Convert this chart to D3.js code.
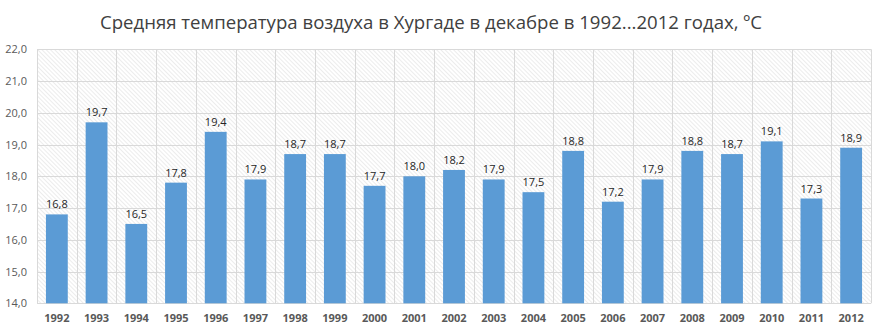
<!DOCTYPE html>
<html><head><meta charset="utf-8">
<script src="https://cdn.jsdelivr.net/npm/d3@7"></script>
<style>body{margin:0;background:#fff}svg{display:block}</style>
</head><body><svg id="c" width="884" height="332"></svg>
<script>
const years = ["1992","1993","1994","1995","1996","1997","1998","1999","2000","2001","2002","2003","2004","2005","2006","2007","2008","2009","2010","2011","2012"];
const temps = [16.8,19.7,16.5,17.8,19.4,17.9,18.7,18.7,17.7,18.0,18.2,17.9,17.5,18.8,17.2,17.9,18.8,18.7,19.1,17.3,18.9];
const yTicks = [14,15,16,17,18,19,20,21,22];
const title = "Средняя температура воздуха в Хургаде в декабре в 1992...2012 годах, ºС";

const svg = d3.select("#c");
const m = {l:37, r:871, t:49.3, b:303.3};
const x = d3.scaleBand().domain(years).range([m.l, m.r]).paddingInner(0.45).paddingOuter(0.225);
const y = d3.scaleLinear().domain([14,22]).range([m.b, m.t]);
const fmt = v => d3.format(".1f")(v).replace(".", ",");
const font = "'Open Sans', 'Liberation Sans', sans-serif";

const defs = svg.append("defs");
const pat = defs.append("pattern").attr("id","hatch").attr("patternUnits","userSpaceOnUse")
  .attr("width",3).attr("height",3).attr("patternTransform","rotate(-45)");
pat.append("rect").attr("width",3).attr("height",3).attr("fill","#fff");
pat.append("line").attr("x1",0).attr("y1",0).attr("x2",0).attr("y2",3).attr("stroke","#cfcfcf").attr("stroke-width",0.8);

svg.append("rect").attr("x",m.l).attr("y",m.t).attr("width",m.r-m.l).attr("height",m.b-m.t).attr("fill","url(#hatch)");

// horizontal gridlines
svg.append("g").selectAll("line").data(yTicks).join("line")
  .attr("x1",m.l).attr("x2",m.r).attr("y1",d=>Math.round(y(d))+0.5).attr("y2",d=>Math.round(y(d))+0.5)
  .attr("stroke","#d9d9d9").attr("stroke-width",1);
// vertical gridlines at category boundaries
const bounds = d3.range(years.length+1).map(i => m.l + i*(m.r-m.l)/years.length);
svg.append("g").selectAll("line").data(bounds).join("line")
  .attr("x1",d=>Math.round(d)+0.5).attr("x2",d=>Math.round(d)+0.5).attr("y1",m.t).attr("y2",m.b)
  .attr("stroke","#d9d9d9").attr("stroke-width",1);

// y axis labels
const yAxis = d3.axisLeft(y).tickValues(yTicks).tickFormat(fmt).tickSize(0).tickPadding(10);
const ga = svg.append("g").attr("transform",`translate(${m.l},0)`).call(yAxis);
ga.select(".domain").remove();
ga.selectAll("text").attr("font-family",font).attr("font-size",11).attr("fill","#595959");

// x axis labels
const xAxis = d3.axisBottom(x).tickSize(0).tickPadding(11);
const gx = svg.append("g").attr("transform",`translate(0,${m.b})`).call(xAxis);
gx.select(".domain").remove();
gx.selectAll("text").attr("font-family",font).attr("font-size",11).attr("font-weight","bold").attr("fill","#595959");

// bars
svg.append("g").selectAll("rect").data(years).join("rect")
  .attr("x",d=>x(d)).attr("width",x.bandwidth())
  .attr("y",(d,i)=>y(temps[i])).attr("height",(d,i)=>y(14)-y(temps[i]))
  .attr("fill","#5b9bd5");

// labels
svg.append("g").selectAll("text").data(years).join("text")
  .attr("x",d=>x(d)+x.bandwidth()/2).attr("y",(d,i)=>y(temps[i])-6)
  .attr("text-anchor","middle").attr("font-family",font).attr("font-size",11).attr("fill","#262626")
  .text((d,i)=>fmt(temps[i]));

svg.append("text").attr("x",431).attr("y",29).attr("text-anchor","middle")
  .attr("font-family",font).attr("font-size",18.6).attr("fill","#404040").text(title);
</script></body></html>
